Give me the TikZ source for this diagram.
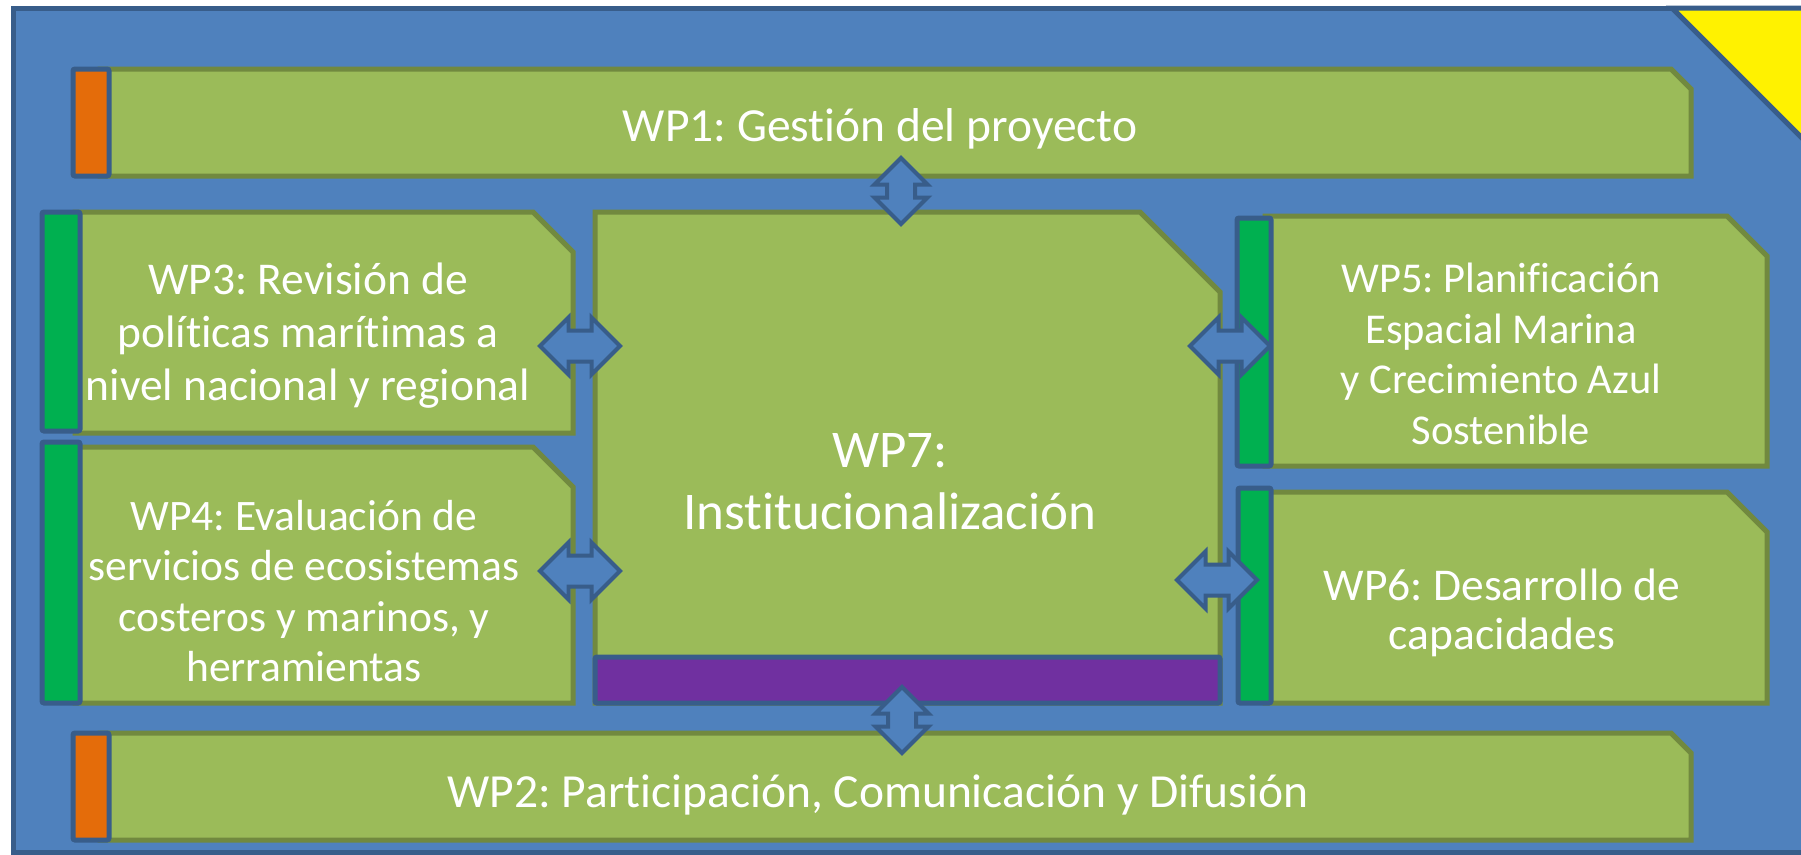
\documentclass[tikz,border=0pt]{standalone}
\usepackage{fontspec}
\setmainfont{Carlito}[RawFeature={-liga;-clig;-calt;-dlig}]
\usetikzlibrary{shapes.arrows}
\definecolor{bgblue}{HTML}{4F81BD}
\definecolor{dkblue}{HTML}{385D8A}
\definecolor{lgreen}{HTML}{9BBB59}
\definecolor{olivegr}{HTML}{71893F}
\definecolor{orng}{HTML}{E46C0A}
\definecolor{gbar}{HTML}{00B050}
\definecolor{purp}{HTML}{7030A0}
\newcommand{\snipbox}[5]{\draw[wpbox] (#1,#2) -- ({#3-#5},#2) -- (#3,{#2+#5}) -- (#3,#4) -- (#1,#4) -- cycle;}
\tikzset{
  wpbox/.style={fill=lgreen, draw=olivegr, line width=5pt, line join=miter},
  sidebar/.style={draw=dkblue, line width=5pt, rounded corners=2pt},
  wptext/.style={text=white, align=center, inner sep=0pt},
  harrow/.style={double arrow, draw=dkblue, fill=bgblue, line width=4pt,
    inner xsep=0pt, inner ysep=13.5pt, double arrow head extend=13pt,
    minimum width=53pt, minimum height=80pt},
  varrow/.style={double arrow, draw=dkblue, fill=bgblue, line width=4pt,
    inner xsep=0pt, inner ysep=12pt, double arrow head extend=12.5pt,
    minimum width=49pt, minimum height=66pt, rotate=90},
}
\begin{document}
\frenchspacing
\begin{tikzpicture}[x=1pt,y=-1pt]
\useasboundingbox (0,0) rectangle (1801,854);
\clip (0,0) rectangle (1801,854);
% background
\draw[fill=bgblue, draw=dkblue, line width=5pt] (13,8) rectangle (1830,852);
\draw[fill=yellow, draw=dkblue, line width=5pt, line join=miter] (1672,8) -- (1830,8) -- (1830,166) -- cycle;
% green boxes
\snipbox{100}{69}{1691}{176}{20}
\snipbox{100}{733}{1691}{840}{20}
\snipbox{75}{212}{573}{433}{40}
\snipbox{75}{447}{573}{703}{40}
\snipbox{595}{212}{1220}{703}{80}
\snipbox{1265}{216}{1767}{466}{40}
\snipbox{1265}{492}{1767}{703}{40}
% side bars
\draw[sidebar, fill=orng] (73,69) rectangle (109,176);
\draw[sidebar, fill=orng] (73,733) rectangle (109,840);
\draw[sidebar, fill=gbar] (42,212) rectangle (80,431);
\draw[sidebar, fill=gbar] (42,442) rectangle (80,703);
\draw[sidebar, fill=gbar] (1237,218) rectangle (1271,466);
\draw[sidebar, fill=gbar] (1238,488) rectangle (1271,703);
\draw[sidebar, fill=purp] (595,657) rectangle (1220,703);
% texts
\node[wptext, font=\fontsize{47.5}{55}\selectfont] (wp1) at (880,129) {WP1: Gestión del proyecto};
\node[wptext, font=\fontsize{47.5}{55}\selectfont] (wp2) at (878,795) {WP2: Participación, Comunicación y Difusión};
\node[wptext, font=\fontsize{45.5}{53}\selectfont] (wp3) at (308,336) {WP3: Revisión de\\políticas marítimas a\\nivel nacional y regional};
\node[wptext, font=\fontsize{43.5}{50.5}\selectfont] (wp4) at (304,591) {WP4: Evaluación de\\servicios de ecosistemas\\costeros y marinos, y\\herramientas};
\node[wptext, font=\fontsize{53}{62}\selectfont] (wp7) at (890,482) {WP7:\\Institucionalización};
\node[wptext, font=\fontsize{42.5}{50.5}\selectfont] (wp5) at (1501,354) {WP5: Planificación\\Espacial Marina\\y Crecimiento Azul\\Sostenible};
\node[wptext, font=\fontsize{45.5}{49.5}\selectfont] (wp6) at (1502,613) {WP6: Desarrollo de\\capacidades};
% arrows
\node[varrow] (a17) at (901,191) {};
\node[harrow] (a37) at (580,346) {};
\node[harrow] (a47) at (580,571) {};
\node[harrow] (a75) at (1230,346) {};
\node[harrow] (a76) at (1217,580) {};
\node[varrow] (a72) at (902,720) {};
\end{tikzpicture}
\end{document}
